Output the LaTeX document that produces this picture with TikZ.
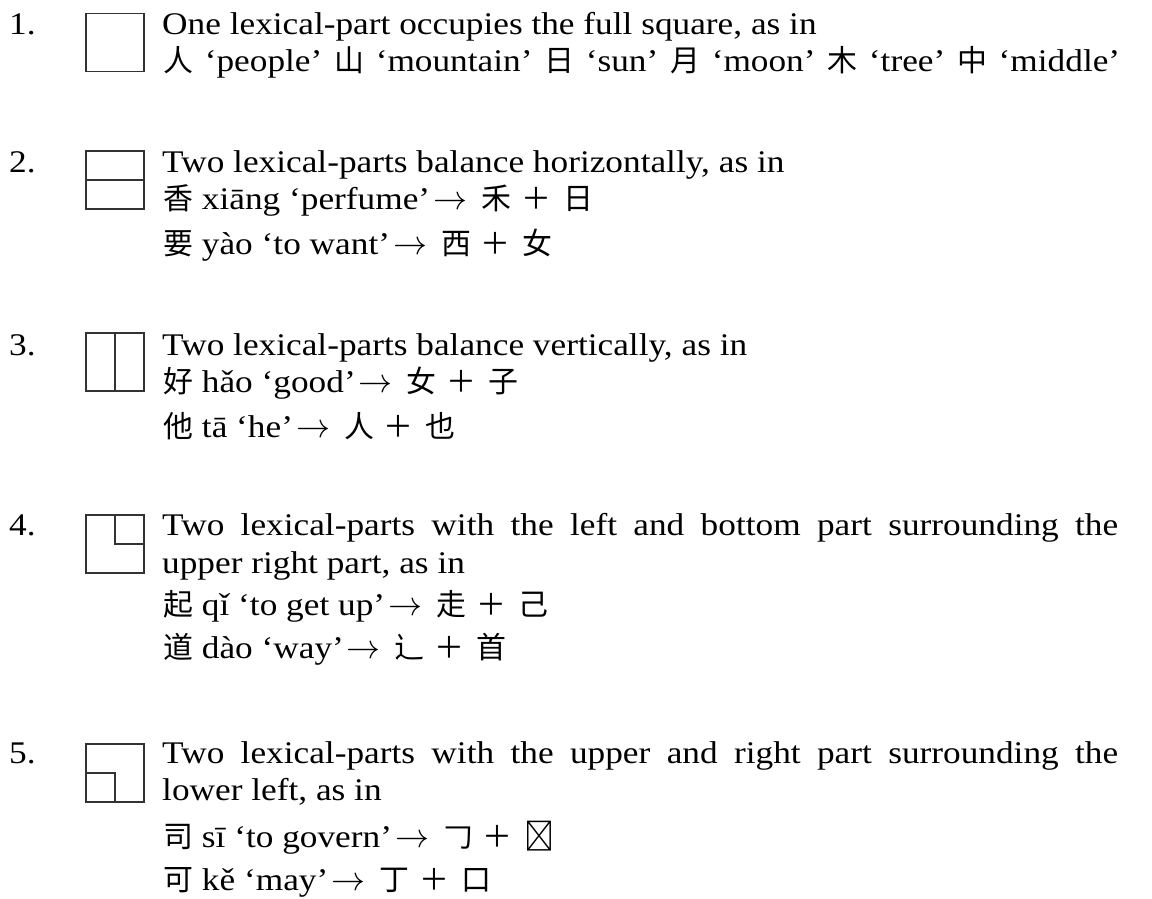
\documentclass[tikz,border=0pt]{standalone}
\usepackage{fontspec}
\usepackage{graphicx}
\setmainfont{Liberation Serif}[FakeStretch=1.12]
\newfontfamily\cjk{Noto Sans CJK SC}[Scale=0.95]
\newcommand\mainsz{\fontsize{31.5}{37}\selectfont}
\newcommand\CJ[1]{{\cjk #1}}
\newcommand\arr{\hspace{3pt}\smash{\scalebox{3.4}{\normalsize$\rightarrow$}}\hspace{14pt}}
\newcommand\pl{\hspace{10pt}{\cjk ＋}\hspace{12pt}}
\tikzset{
  txt/.style={anchor=base west, inner sep=0pt, font=\mainsz},
  sqbox/.style={draw=black!80, line width=1.3pt, minimum width=58pt, minimum height=58pt, inner sep=0pt},
  inner/.style={draw=black!80, line width=1.3pt}
}
\begin{document}
\begin{tikzpicture}[x=1pt,y=-1pt]
\useasboundingbox (0,0) rectangle (1152,899);
% item 1
\node[txt] (n1) at (9,35) {1.};
\node[sqbox] (s1) at (115,42.5) {};
\node[txt] (t1a) at (162,35) {One lexical-part occupies the full square, as in};
\node[txt] (t1b) at (163,72) {\makebox[957pt][s]{\CJ{人} ‘people’ \CJ{山} ‘mountain’ \CJ{日} ‘sun’ \CJ{月} ‘moon’ \CJ{木} ‘tree’ \CJ{中} ‘middle’}};
% item 2
\node[txt] (n2) at (9,172) {2.};
\node[sqbox] (s2) at (115,180) {};
\draw[inner] (s2.west) -- (s2.east);
\node[txt] (t2a) at (162,172) {Two lexical-parts balance horizontally, as in};
\node[txt] (t2b) at (163,209) {\CJ{香} xiāng ‘perfume’\arr\CJ{禾}\pl\CJ{日}};
\node[txt] (t2c) at (163,254) {\CJ{要} yào ‘to want’\arr\CJ{西}\pl\CJ{女}};
% item 3
\node[txt] (n3) at (9,355) {3.};
\node[sqbox] (s3) at (115,362) {};
\draw[inner] (s3.north) -- (s3.south);
\node[txt] (t3a) at (162,355) {Two lexical-parts balance vertically, as in};
\node[txt] (t3b) at (163,392) {\CJ{好} hǎo ‘good’\arr\CJ{女}\pl\CJ{子}};
\node[txt] (t3c) at (163,437) {\CJ{他} tā ‘he’\arr\CJ{人}\pl\CJ{也}};
% item 4
\node[txt] (n4) at (9,535) {4.};
\node[sqbox] (s4) at (115,544) {};
\draw[inner] (s4.north) |- (s4.east);
\node[txt] (t4a) at (162,535) {\makebox[956pt][s]{Two lexical-parts with the left and bottom part surrounding the}};
\node[txt] (t4b) at (162,573) {upper right part, as in};
\node[txt] (t4c) at (163,615) {\CJ{起} qǐ ‘to get up’\arr\CJ{走}\pl\CJ{己}};
\node[txt] (t4d) at (163,658) {\CJ{道} dào ‘way’\arr\CJ{辶}\pl\CJ{首}};
% item 5
\node[txt] (n5) at (9,763) {5.};
\node[sqbox] (s5) at (115,773) {};
\draw[inner] (s5.west) -| (s5.south);
\node[txt] (t5a) at (162,763) {\makebox[956pt][s]{Two lexical-parts with the upper and right part surrounding the}};
\node[txt] (t5b) at (162,800) {lower left, as in};
\node[txt] (t5c) at (163,847) {\CJ{司} sī ‘to govern’\arr\CJ{𠃌}\pl\CJ{𠮛}};
\node[txt] (t5d) at (163,890) {\CJ{可} kě ‘may’\arr\CJ{丁}\pl\CJ{口}};
\end{tikzpicture}
\end{document}
